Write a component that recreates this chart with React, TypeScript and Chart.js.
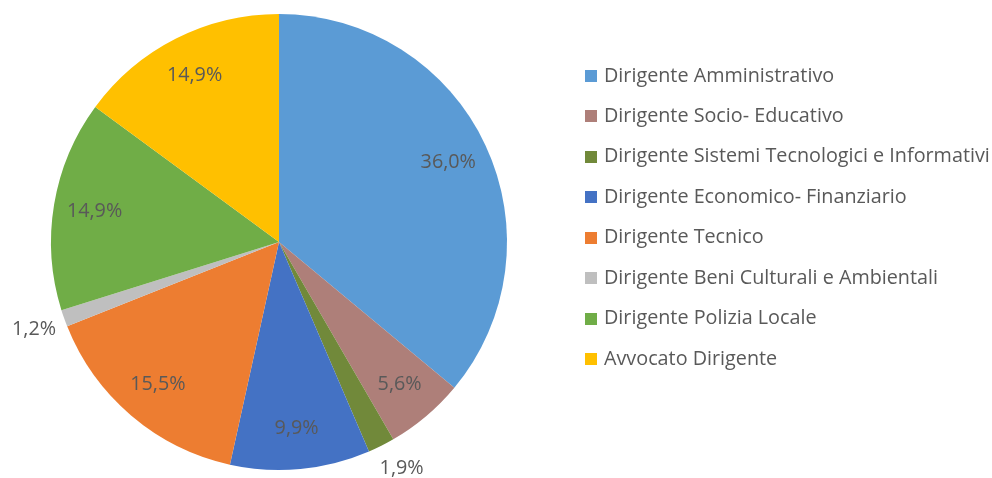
import React, { useEffect, useRef } from "react";
import { Chart, registerables } from "chart.js";

Chart.register(...registerables);

const categories = [
  "Dirigente Amministrativo",
  "Dirigente Socio- Educativo",
  "Dirigente Sistemi Tecnologici e Informativi",
  "Dirigente Economico- Finanziario",
  "Dirigente Tecnico",
  "Dirigente Beni Culturali e Ambientali",
  "Dirigente Polizia Locale",
  "Avvocato Dirigente",
];
const values = [36.0, 5.6, 1.9, 9.9, 15.5, 1.2, 14.9, 14.9];
const colors = [
  "#5B9BD5",
  "#AE7F79",
  "#71893A",
  "#4472C4",
  "#ED7D31",
  "#BFBFBF",
  "#70AD47",
  "#FFC000",
];

const FONT = "'Open Sans', Lato, sans-serif";
const TEXT_COLOR = "#595959";

const fmt = (v: number) => v.toFixed(1).replace(".", ",") + "%";

function fittedSize(ctx: CanvasRenderingContext2D, texts: string[], target: number) {
  ctx.save();
  ctx.font = `100px ${FONT}`;
  const w = Math.max(...texts.map((t) => ctx.measureText(t).width));
  ctx.restore();
  return Math.min(20, (100 * target) / w);
}

const labelPlugin = {
  id: "sliceLabels",
  afterDatasetsDraw(chart: any) {
    const ctx = chart.ctx;
    const meta = chart.getDatasetMeta(0);
    const data = chart.data.datasets[0].data as number[];
    const total = data.reduce((a, b) => a + b, 0);
    const size = fittedSize(ctx, chart.data.labels as string[], 386);
    ctx.save();
    ctx.font = `${size}px ${FONT}`;
    ctx.fillStyle = TEXT_COLOR;
    ctx.textAlign = "center";
    ctx.textBaseline = "middle";
    meta.data.forEach((arc: any, i: number) => {
      const { x, y, startAngle, endAngle, outerRadius } = arc.getProps(
        ["x", "y", "startAngle", "endAngle", "outerRadius"],
        true
      );
      const mid = (startAngle + endAngle) / 2;
      const frac = data[i] / total;
      const outside = frac < 0.03;
      const r = outside ? outerRadius * 1.14 : outerRadius * 0.82;
      let lx = x + Math.cos(mid) * r;
      let ly = y + Math.sin(mid) * r;
      if (outside) {
        const h = chart.height;
        ly = Math.min(ly, h - 10);
        lx += Math.cos(mid) > 0 ? 6 : 0;
      }
      ctx.fillText(fmt(data[i]), lx, ly);
    });
    ctx.restore();
  },
};

const legendPlugin = {
  id: "sideLegend",
  afterDraw(chart: any) {
    const ctx = chart.ctx;
    const labels = chart.data.labels as string[];
    const bg = chart.data.datasets[0].backgroundColor as string[];
    const size = fittedSize(ctx, labels, 386);
    ctx.save();
    ctx.font = `${size}px ${FONT}`;
    ctx.textBaseline = "middle";
    ctx.textAlign = "left";
    labels.forEach((lab, i) => {
      const y = 76 + i * 40.43;
      ctx.fillStyle = bg[i];
      ctx.fillRect(585, Math.round(y - 6), 12, 12);
      ctx.fillStyle = TEXT_COLOR;
      ctx.fillText(lab, 604, y);
    });
    ctx.restore();
  },
};

export default function App() {
  const ref = useRef<HTMLCanvasElement>(null);
  useEffect(() => {
    if (!ref.current) return;
    const chart = new Chart(ref.current, {
      type: "pie",
      data: {
        labels: categories,
        datasets: [
          {
            data: values,
            backgroundColor: colors,
            borderWidth: 0,
          },
        ],
      },
      options: {
        responsive: false,
        animation: false,
        devicePixelRatio: 1,
        layout: { padding: { left: 51, right: 485, top: 14, bottom: 8 } },
        plugins: {
          legend: { display: false },
          tooltip: { enabled: false },
        },
      },
      plugins: [labelPlugin, legendPlugin],
    });
    return () => chart.destroy();
  }, []);
  return (
    <div style={{ position: "absolute", left: 0, top: 0, width: 992, height: 478, background: "#fff" }}>
      <canvas ref={ref} width={992} height={478} style={{ display: "block" }} />
    </div>
  );
}
